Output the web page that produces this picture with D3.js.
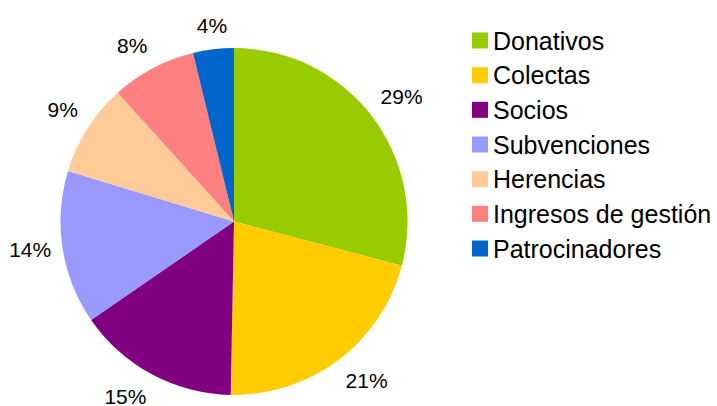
<!DOCTYPE html>
<html>
<head>
<meta charset="utf-8">
<script src="https://cdn.jsdelivr.net/npm/d3@7"></script>
<style>
  body { margin: 0; background: #fff; }
  text { font-family: 'Liberation Sans', Arial, sans-serif; fill: #000; }
</style>
</head>
<body>
<div id="chart"></div>
<script>
const categories = ['Donativos', 'Colectas', 'Socios', 'Subvenciones', 'Herencias', 'Ingresos de gestión', 'Patrocinadores'];
const values = [29.1, 21.2, 15.1, 14.3, 8.6, 7.9, 3.8];
const colors = ['#99cc00', '#ffcc00', '#800080', '#9999ff', '#ffcc99', '#ff8080', '#0066cc'];

const W = 717;
const H = 406;
const center = { x: 234, y: 221.5 };
const radius = 173.5;
const labelRadius = 185;
const pctSize = 21;

const svg = d3.select('#chart').append('svg')
  .attr('width', W)
  .attr('height', H);

const data = categories.map((c, i) => ({ name: c, value: values[i], color: colors[i] }));
const total = d3.sum(values);

const pie = d3.pie()
  .sort(null)
  .value(d => d.value);

const arc = d3.arc()
  .innerRadius(0)
  .outerRadius(radius);

const g = svg.append('g')
  .attr('transform', `translate(${center.x}, ${center.y})`);

const slices = pie(data);

g.selectAll('path')
  .data(slices)
  .enter().append('path')
  .attr('d', arc)
  .attr('fill', d => d.data.color);

// label alignment in 8 sectors around the anchor point (like office charts do)
function labelPlace(d) {
  const mid = (d.startAngle + d.endAngle) / 2;
  const px = labelRadius * Math.sin(mid);
  const py = -labelRadius * Math.cos(mid);
  let deg = (90 - mid * 180 / Math.PI) % 360;
  if (deg < 0) deg += 360;
  let anchor = 'middle';
  let v = 'middle';
  if (deg <= 22.5 || deg >= 337.5) { anchor = 'start'; }
  else if (deg < 67.5) { anchor = 'start'; v = 'top'; }
  else if (deg < 112.5) { v = 'top'; }
  else if (deg <= 157.5) { anchor = 'end'; v = 'top'; }
  else if (deg <= 202.5) { anchor = 'end'; }
  else if (deg < 247.5) { anchor = 'end'; v = 'bottom'; }
  else if (deg < 292.5) { v = 'bottom'; }
  else { anchor = 'start'; v = 'bottom'; }
  // baseline offset: above the point, below it, or centred on it
  const cap = pctSize * 0.72;
  let by = py + cap / 2;
  if (v === 'top') by = py - 5;
  if (v === 'bottom') by = py + 4 + cap;
  return { x: px, y: by, anchor };
}

g.selectAll('text.pct')
  .data(slices)
  .enter().append('text')
  .attr('class', 'pct')
  .each(function (d) {
    const p = labelPlace(d);
    d3.select(this)
      .attr('x', p.x)
      .attr('y', p.y)
      .attr('text-anchor', p.anchor);
  })
  .style('font-size', `${pctSize}px`)
  .text(d => `${Math.round(d.data.value / total * 100)}%`);

// legend
const legendY = d3.scalePoint()
  .domain(categories)
  .range([40.5, 248.5]);

const legend = svg.append('g')
  .attr('class', 'legend');

const rows = legend.selectAll('g')
  .data(data)
  .enter().append('g')
  .attr('transform', d => `translate(472, ${legendY(d.name)})`);

rows.append('rect')
  .attr('x', 0)
  .attr('y', -8)
  .attr('width', 16)
  .attr('height', 16)
  .attr('fill', d => d.color);

rows.append('text')
  .attr('x', 21)
  .attr('dy', '0.36em')
  .style('font-size', '25px')
  .text(d => d.name);
</script>
</body>
</html>
